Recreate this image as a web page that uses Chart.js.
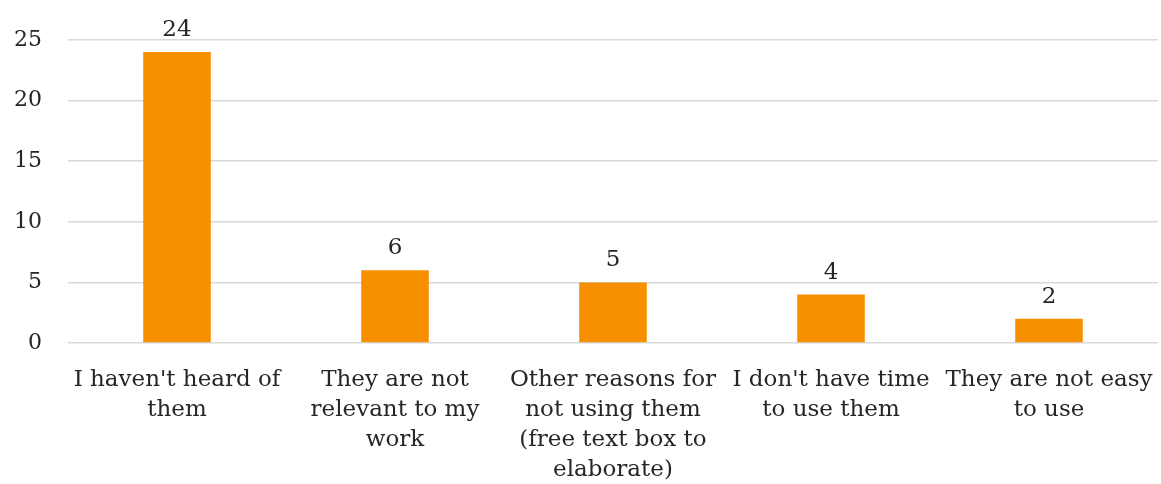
<!DOCTYPE html>
<html>
<head>
<meta charset="utf-8">
<script src="https://cdn.jsdelivr.net/npm/chart.js@4/dist/chart.umd.min.js"></script>
<style>
    html, body { margin: 0; padding: 0; background: #fff; }
    #wrap { width: 1161px; height: 484px; }
</style>
</head>
<body>
<div id="wrap"><canvas id="reasonsChart"></canvas></div>
<script>
(() => {

    // --------- data ---------
    const categories = [
        ["I haven't heard of", "them"],
        ["They are not", "relevant to my", "work"],
        ["Other reasons for", "not using them", "(free text box to", "elaborate)"],
        ["I don't have time", "to use them"],
        ["They are not easy", "to use"]
    ];
    const counts = [24, 6, 5, 4, 2];
    const yTicks = [0, 5, 10, 15, 20, 25];

    const fontFamily = "'DejaVu Serif', 'Liberation Serif', serif";

    // value labels above bars
    const valueLabels = {
        id: 'valueLabels',
        afterDatasetsDraw(chart) {
            const ctx = chart.ctx;
            const meta = chart.getDatasetMeta(0);
            ctx.save();
            ctx.font = "23px " + fontFamily;
            ctx.fillStyle = '#262626';
            ctx.textAlign = 'center';
            ctx.textBaseline = 'alphabetic';
            meta.data.forEach((bar, i) => {
                ctx.fillText(String(counts[i]), bar.x, bar.y - 16);
            });
            ctx.restore();
        }
    };

    const chartEl = document.getElementById("reasonsChart");
    new Chart(chartEl, {
        type: 'bar',
        data: {
            labels: categories,
            datasets: [{
                data: counts,
                backgroundColor: '#F79000',
                barPercentage: 1,
                categoryPercentage: 0.31
            }]
        },
        options: {
            responsive: true,
            maintainAspectRatio: false,
            animation: false,
            layout: { padding: { top: 40, left: 0, right: 3, bottom: 0 } },
            plugins: {
                legend: { display: false },
                tooltip: { enabled: false }
            },
            scales: {
                x: {
                    // fixed axis height, no extra side padding for wide labels
                    afterFit: axis => {
                        axis.height = 141;
                        axis.paddingLeft = 0;
                        axis.paddingRight = 0;
                    },
                    grid: { display: false, drawTicks: false },
                    border: { display: false },
                    ticks: {
                        color: '#262626',
                        font: { family: fontFamily, size: 23, lineHeight: 1.3 },
                        padding: 22,
                        maxRotation: 0,
                        autoSkip: false
                    }
                },
                y: {
                    min: yTicks[0],
                    max: yTicks[yTicks.length - 1],
                    afterBuildTicks: axis => {
                        axis.ticks = yTicks.map(v => ({ value: v }));
                    },
                    afterFit: axis => { axis.width = 68; },
                    grid: { color: '#d9d9d9', lineWidth: 1.5, drawTicks: false },
                    border: { display: false },
                    ticks: {
                        color: '#262626',
                        font: { family: fontFamily, size: 22 },
                        padding: 26
                    }
                }
            }
        },
        plugins: [valueLabels]
    });

})();
</script>
</body>
</html>
